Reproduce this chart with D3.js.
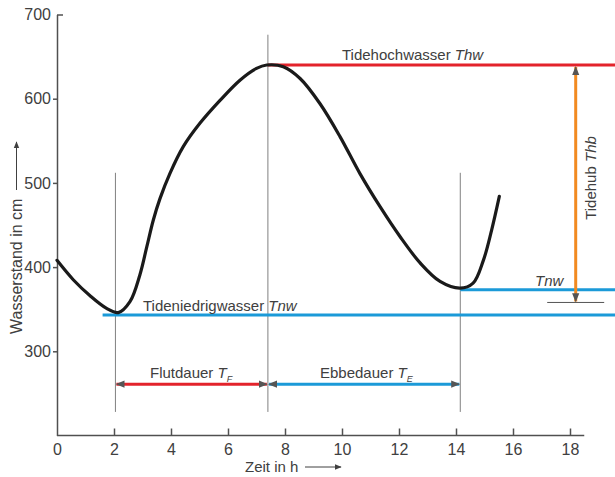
<!DOCTYPE html>
<html>
<head>
<meta charset="utf-8">
<script src="https://cdn.jsdelivr.net/npm/d3@7"></script>
<style>
  body { margin: 0; background: #fff; }
  svg text { font-family: "Liberation Sans", Arial, Helvetica, sans-serif; fill: #404040; }
</style>
</head>
<body>
<div id="chart"></div>
<script>
// tide curve (hours, cm)
const tideHours = [0, 0.57, 1.16, 1.74, 2.15, 2.56, 2.91, 3.15, 3.38, 3.61, 3.96, 4.43, 5.02, 5.72, 6.42, 7.0, 7.36, 7.94, 8.53, 9.23, 9.93, 10.63, 11.33, 12.04, 12.74, 13.44, 14.14, 14.6, 14.96, 15.25, 15.52];
const tideLevel = [408, 385, 366, 351, 346, 359, 391, 424, 456, 481, 511, 543, 571, 598, 622, 636, 640, 638, 624, 594, 555, 511, 472, 436, 405, 383, 375, 381, 408, 444, 484];

const xTicks = [0, 2, 4, 6, 8, 10, 12, 14, 16, 18];
const yTicks = [300, 400, 500, 600, 700];

// reference levels
const thw = 640;          // Tidehochwasser
const tnw1 = 343;         // Tideniedrigwasser (1st low)
const tnw2 = 373;         // Tnw (2nd low)
const tLow1 = 2.05, tHigh = 7.4, tLow2 = 14.15;
const durationLevel = 261;
const hubHour = 18.2, hubBottom = 358;

const size = { width: 615, height: 477 };
const svg = d3.select("#chart").append("svg")
  .attr("width", size.width).attr("height", size.height);

const x = d3.scaleLinear().domain([0, 18]).range([57, 570]);
const y = d3.scaleLinear().domain([200, 700]).range([435.5, 14.5]);
const xEnd = x.invert(size.width);

const colors = { red: "#e3232b", blue: "#1b9ad8", orange: "#f28a20", grid: "#808080", axis: "#505050" };

// arrow markers
const defs = svg.append("defs");
defs.append("marker").attr("id", "head")
  .attr("viewBox", "0 0 10 10").attr("refX", 9).attr("refY", 5)
  .attr("markerWidth", 3).attr("markerHeight", 3)
  .attr("orient", "auto-start-reverse")
  .append("path").attr("d", "M0,1 L10,5 L0,9 Z").attr("fill", "#555");
defs.append("marker").attr("id", "axisHead")
  .attr("viewBox", "0 0 10 10").attr("refX", 9).attr("refY", 5)
  .attr("markerWidth", 7).attr("markerHeight", 7).attr("markerUnits", "userSpaceOnUse")
  .attr("orient", "auto")
  .append("path").attr("d", "M0,1 L10,5 L0,9 Z").attr("fill", "#404040");

// axes
const yAxis = svg.append("g")
  .attr("transform", `translate(${x(0)},0)`)
  .call(d3.axisLeft(y).tickValues(yTicks).tickSizeInner(4).tickSizeOuter(0).tickPadding(2));
yAxis.selectAll(".tick line").filter(d => d === 700).attr("x2", 6);
yAxis.selectAll(".tick text").style("font-size", "16px");

const xAxis = svg.append("g")
  .attr("transform", `translate(0,${y(200)})`)
  .call(d3.axisBottom(x).tickValues(xTicks).tickSizeInner(-7).tickSizeOuter(0).tickPadding(8));
xAxis.select(".domain").attr("d", `M${x(0)},0H${x(18.5)}`);
xAxis.selectAll(".tick line").filter(d => d === 0).remove();
xAxis.selectAll(".tick text").style("font-size", "16px").attr("y", 8);

svg.selectAll(".domain, .tick line").attr("stroke", colors.axis).attr("stroke-width", 1.5);
svg.selectAll(".tick text").style("fill", "#404040");

// axis titles
svg.append("text")
  .attr("x", 245).attr("y", 472)
  .style("font-size", "15px").text("Zeit in h");
svg.append("line")
  .attr("x1", 305).attr("x2", 341).attr("y1", 467).attr("y2", 467)
  .attr("stroke", "#404040").attr("stroke-width", 1).attr("marker-end", "url(#axisHead)");

svg.append("g").attr("transform", "translate(22,334) rotate(-90)")
  .call(g => {
    g.append("text").attr("x", 0).attr("y", 0).style("font-size", "16px").text("Wasserstand in cm");
    g.append("line").attr("x1", 144).attr("x2", 192).attr("y1", -5.5).attr("y2", -5.5)
      .attr("stroke", "#404040").attr("stroke-width", 1).attr("marker-end", "url(#axisHead)");
  });

// vertical reference lines
const verticals = [
  { t: tLow1, top: 512, bottom: 228 },
  { t: tHigh, top: 676, bottom: 228 },
  { t: tLow2, top: 512, bottom: 228 },
];
svg.selectAll(".vline").data(verticals).join("line")
  .attr("class", "vline")
  .attr("x1", d => x(d.t)).attr("x2", d => x(d.t))
  .attr("y1", d => y(d.top)).attr("y2", d => y(d.bottom))
  .attr("stroke", colors.grid).attr("stroke-width", 1);

// horizontal levels
const levels = [
  { from: tHigh, to: xEnd, v: thw, color: colors.red },
  { from: 1.6, to: xEnd, v: tnw1, color: colors.blue },
  { from: tLow2, to: xEnd, v: tnw2, color: colors.blue },
];
svg.selectAll(".level").data(levels).join("line")
  .attr("class", "level")
  .attr("x1", d => x(d.from)).attr("x2", d => x(d.to))
  .attr("y1", d => y(d.v)).attr("y2", d => y(d.v))
  .attr("stroke", d => d.color).attr("stroke-width", 3);

// Tidehub
svg.append("line")
  .attr("x1", x(17.2)).attr("x2", x(19.2)).attr("y1", y(hubBottom)).attr("y2", y(hubBottom))
  .attr("stroke", "#555").attr("stroke-width", 1);
svg.append("line")
  .attr("x1", x(hubHour)).attr("x2", x(hubHour)).attr("y1", y(thw) + 2).attr("y2", y(hubBottom) - 1)
  .attr("stroke", colors.orange).attr("stroke-width", 3)
  .attr("marker-start", "url(#head)").attr("marker-end", "url(#head)");

// durations
const durations = [
  { from: tLow1, to: tHigh, color: colors.red, label: "Flutdauer ", sub: "F", lx: 150 },
  { from: tHigh, to: tLow2, color: colors.blue, label: "Ebbedauer ", sub: "E", lx: 320 },
];
svg.selectAll(".dur").data(durations).join("line")
  .attr("class", "dur")
  .attr("x1", d => x(d.from) + 1).attr("x2", d => x(d.to) - 1)
  .attr("y1", y(durationLevel)).attr("y2", y(durationLevel))
  .attr("stroke", d => d.color).attr("stroke-width", 3)
  .attr("marker-start", "url(#head)").attr("marker-end", "url(#head)");

const durText = svg.selectAll(".durText").data(durations).join("text")
  .attr("class", "durText")
  .attr("x", d => d.lx).attr("y", y(durationLevel) - 6)
  .style("font-size", "15px");
durText.append("tspan").text(d => d.label);
durText.append("tspan").style("font-style", "italic").text("T");
durText.append("tspan").attr("dy", 4).style("font-size", "9px").style("font-style", "italic").text(d => d.sub);

// tide curve
svg.append("path")
  .datum(tideHours.map((t, i) => [t, tideLevel[i]]))
  .attr("fill", "none").attr("stroke", "#1a1a1a").attr("stroke-width", 3.2)
  .attr("stroke-linecap", "round")
  .attr("d", d3.line().x(d => x(d[0])).y(d => y(d[1])).curve(d3.curveCatmullRom));

// labels
const lab1 = svg.append("text").attr("x", 342).attr("y", y(thw) - 5).style("font-size", "15px");
lab1.append("tspan").text("Tidehochwasser ");
lab1.append("tspan").style("font-style", "italic").text("Thw");

const lab2 = svg.append("text").attr("x", 143).attr("y", y(tnw1) - 4).style("font-size", "15px");
lab2.append("tspan").text("Tideniedrigwasser ");
lab2.append("tspan").style("font-style", "italic").text("Tnw");

svg.append("text").attr("x", 535).attr("y", y(tnw2) - 4)
  .style("font-size", "15px").style("font-style", "italic").text("Tnw");

const lab3 = svg.append("text")
  .attr("transform", "translate(596,178) rotate(-90)")
  .attr("text-anchor", "middle").style("font-size", "15px");
lab3.append("tspan").text("Tidehub ");
lab3.append("tspan").style("font-style", "italic").text("Thb");
</script>
</body>
</html>
